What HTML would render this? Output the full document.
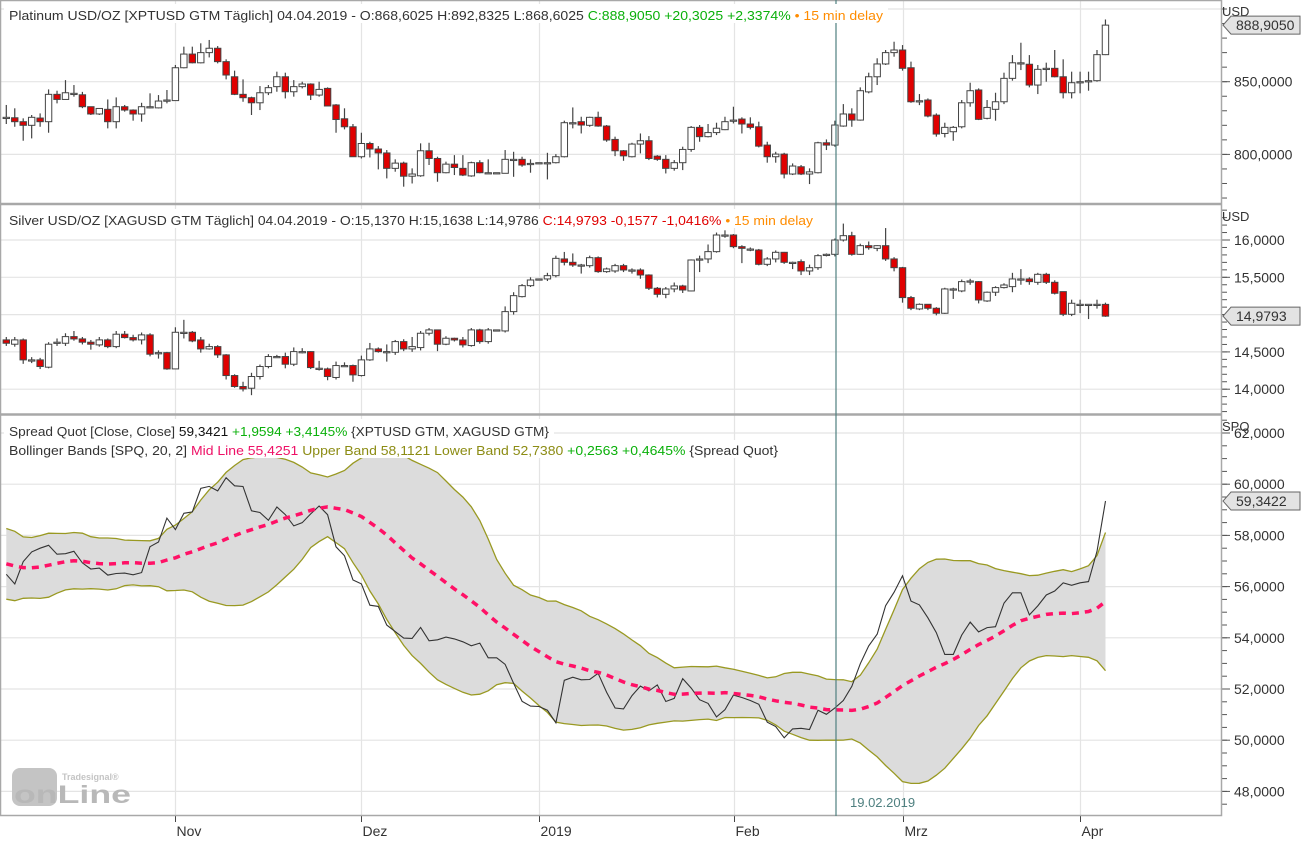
<!DOCTYPE html>
<html><head><meta charset="utf-8"><style>
html,body{margin:0;padding:0;background:#fff;}
svg{display:block;font-family:"Liberation Sans",sans-serif;}
</style></head><body>
<svg id="chart" width="1301" height="842" viewBox="0 0 1301 842" xmlns="http://www.w3.org/2000/svg">
<rect x="0" y="0" width="1301" height="842" fill="#fff"/>
<g id="grid"></g>
<g id="spq"></g>
<g id="pt"></g>
<g id="ag"></g>
<g id="axes"></g>
<g fill="none" stroke="#a8a8a8">
<rect x="0.5" y="0.5" width="1221" height="815" stroke-width="1.5"/>
<line x1="0" y1="204" x2="1222" y2="204" stroke-width="2.5"/>
<line x1="0" y1="414.5" x2="1222" y2="414.5" stroke-width="2.5"/>
</g>
<line x1="836" y1="0" x2="836" y2="816" stroke="#4f8080" stroke-width="1.2"/>
<text x="850" y="807" font-size="13" fill="#4f8080">19.02.2019</text>
<g>
<rect x="4" y="4" width="884" height="19" fill="#fff"/>
<text x="9" y="20" font-size="13" textLength="874" lengthAdjust="spacingAndGlyphs" fill="#333">Platinum USD/OZ [XPTUSD GTM Täglich] 04.04.2019 - O:868,6025 H:892,8325 L:868,6025 <tspan fill="#0ab00a">C:888,9050 +20,3025 +2,3374%</tspan><tspan fill="#ff8c00"> • 15 min delay</tspan></text>
</g>
<g>
<rect x="4" y="209" width="814" height="19" fill="#fff"/>
<text x="9" y="225" font-size="13" textLength="804" lengthAdjust="spacingAndGlyphs" fill="#333">Silver USD/OZ [XAGUSD GTM Täglich] 04.04.2019 - O:15,1370 H:15,1638 L:14,9786 <tspan fill="#e00000">C:14,9793 -0,1577 -1,0416%</tspan><tspan fill="#ff8c00"> • 15 min delay</tspan></text>
</g>
<g>
<rect x="4" y="419" width="550" height="38" fill="#fff"/>
<text x="9" y="436" font-size="13" textLength="540" lengthAdjust="spacingAndGlyphs" fill="#333">Spread Quot [Close, Close] <tspan fill="#111">59,3421</tspan> <tspan fill="#0ab00a">+1,9594 +3,4145%</tspan> {XPTUSD GTM, XAGUSD GTM}</text>
</g>
<g>
<rect x="4" y="440" width="780" height="18" fill="#fff"/>
<text x="9" y="455" font-size="13" textLength="769" lengthAdjust="spacingAndGlyphs" fill="#333">Bollinger Bands [SPQ, 20, 2] <tspan fill="#ee1166">Mid Line 55,4251</tspan> <tspan fill="#8c8c14">Upper Band 58,1121 Lower Band 52,7380</tspan> <tspan fill="#0ab00a">+0,2563 +0,4645%</tspan> {Spread Quot}</text>
</g>
<g>
<rect x="12" y="768" width="45" height="38" rx="8" fill="#c4c4c4"/>
<text x="62" y="780" font-size="9" font-weight="bold" fill="#c4c4c4">Tradesignal®</text>
<text x="14" y="803" font-size="25" font-weight="bold" fill="#b8b8b8" textLength="117" lengthAdjust="spacingAndGlyphs">onLine</text>
</g>
</svg>
<script>
const ptO=[825.5,825.2,822.5,820,825,822.5,841.3,837.8,842,841,832.8,827.8,831,822.5,832.8,830.5,827.8,832.8,832,837.4,837,859.6,869,863,870,873,863.8,853.4,841.3,839,835.5,842.4,846.6,853.4,843.1,846.6,848.4,840.8,845.4,834,824.5,819,798.4,807.5,803.7,801,790.4,794,785,785.3,802.5,797.2,787.4,793.3,790.4,785.2,794.3,787.4,787.4,787,796.6,796.6,793.8,794.3,794.3,794.3,798.4,821.8,822.5,820,825.5,819.5,810.3,802.5,798.4,807.1,809.4,798.8,796.6,790.4,794.3,803.4,818.6,812.2,815,817,823.6,824.3,820.9,819,806.4,798.4,800.2,786.5,791.5,786.5,787.4,808,806.4,819.5,827.8,823.6,843,853.4,862.2,870,871.8,859.6,836.9,837.4,827,814.4,815.6,819,835.5,844.3,824.8,831,836.2,852.3,863,862,847.7,859.2,859.2,853.4,842.4,850,850.7,850.7,868.6025];
const ptC=[825.5,822.5,820,825.5,822.5,841.3,837.8,842.4,842,832.8,827.8,831.6,822.5,832.8,830.5,827.8,832.8,832.8,836.7,837.4,859.6,869,863,870,873,863.8,854.6,841.3,839,835.5,842.4,845.9,853.4,843.1,846.6,848.4,840.8,844.7,833.3,824,819,798.4,807.5,803.7,801,790.4,794,785,786.5,802.5,797.2,787.4,793.3,791,785.8,794.3,787.4,787.4,787.4,796.6,796.6,792.7,793.8,794.3,794.3,798.4,821.8,821.8,820.2,825.5,819.5,809.9,802.5,799,807.1,809.4,797.2,796.6,790.4,794.3,803.4,818.6,812.2,815,818,822.5,823.6,820.9,818.6,805.7,798.4,800.2,786.5,792,786.5,788,808,806.4,820.2,827.8,823.6,843.8,853.4,862.2,870,871.8,859.2,836.2,836.9,826.4,814,818.6,818.6,835.5,843.8,824.1,832.3,836.2,852.3,863,863,847.7,858.5,859.2,853.4,842.4,849.3,850,850.7,868.6025,888.905];
const ptH=[834,831.7,824.8,827.1,828.2,844.7,843.8,851.1,847.7,843,832.8,831.6,837.8,839.2,834,831,835.5,842,840.8,844.3,861.5,874.1,874.1,876.4,878.7,874.5,865.4,857.6,851.6,839.7,847,847.7,856.9,856.2,851.1,850,848.9,850,846.1,834.6,831.7,820.9,814.9,808.7,805.7,803,796.6,795,790.4,807.6,808,798.4,795,799.5,799.5,795,796,796.6,787.4,803,801.8,798.4,796.6,794.3,801.1,800.2,823.2,832.3,825.9,825.9,829.4,820.2,812.2,803,808,814.4,812.6,799.5,799.5,796.1,805.3,819.5,820.2,820.9,821.8,825.9,832.8,825.5,825.5,822.5,808.7,801.8,801.1,793.8,792.7,790.4,808.7,810.3,823.2,834.6,831.7,846.1,856.2,866.1,871.8,877.5,875.2,863.8,841.5,838.5,828.2,821.8,819.5,837.4,849.3,845.4,837.4,842.4,856.2,868.3,876.8,868.3,861.5,863.1,871.8,865.4,856.9,856.9,856.9,871.8,892.8];
const ptL=[820.9,819,809.4,811,819,814.9,835.1,837.8,839.7,831.8,827.1,827.1,817.9,817.9,829.4,823.2,822.5,831.6,831.6,835.1,836.9,859.2,862.6,862.6,866.7,862.6,851.6,840.8,836.2,827.1,830.5,840.8,843.1,838.5,839.7,845.4,837.4,839.7,833.3,814.9,817.2,798.4,797.2,797.9,789.7,783.5,788.1,777.8,780,784.6,792.7,781.2,787,785.8,785.1,784.6,787,787,787.4,787,784.6,791.5,787.4,794.3,782.8,793.8,797.9,817.9,814.4,819,819,808.7,798.8,795.6,797.9,800.7,796.1,795.6,786.9,788.8,789.2,801.8,808.7,811.7,813.3,816.7,821.3,814.4,817.2,804.8,794.3,794.3,783.5,785.8,785.8,779.6,786.9,803,805.3,819,819,823.2,842,847.7,861.5,867.2,857.6,835.5,833.9,825.5,812.2,811.7,809.4,817.9,832.8,823.6,824.1,823.2,834.6,850.7,858,846.1,841.5,850,853,838.5,838.5,842,843.8,850,868.3];
const agO=[14.661,14.603,14.661,14.393,14.393,14.295,14.63,14.616,14.705,14.674,14.63,14.594,14.661,14.571,14.737,14.692,14.661,14.728,14.49,14.49,14.272,14.763,14.763,14.66,14.54,14.571,14.46,14.183,14.036,14.013,14.17,14.304,14.438,14.438,14.335,14.504,14.504,14.281,14.272,14.157,14.317,14.317,14.183,14.393,14.54,14.504,14.495,14.638,14.54,14.558,14.75,14.795,14.603,14.683,14.66,14.585,14.795,14.638,14.795,14.781,15.04,15.241,15.388,15.478,15.478,15.522,15.746,15.701,15.665,15.656,15.763,15.576,15.585,15.656,15.598,15.598,15.531,15.353,15.272,15.344,15.384,15.317,15.746,15.746,15.844,16.067,16.067,15.911,15.879,15.866,15.674,15.746,15.835,15.701,15.71,15.585,15.629,15.808,15.808,16.0,16.058,15.808,15.924,15.888,15.924,15.746,15.629,15.228,15.076,15.138,15.085,15.018,15.344,15.317,15.451,15.442,15.183,15.3,15.362,15.375,15.478,15.478,15.433,15.54,15.433,15.308,15.004,15.138,15.138,15.138,15.137];
const agC=[14.616,14.661,14.393,14.393,14.304,14.603,14.63,14.705,14.674,14.63,14.603,14.661,14.571,14.737,14.692,14.661,14.728,14.469,14.49,14.272,14.763,14.763,14.647,14.54,14.571,14.46,14.183,14.036,14.004,14.17,14.304,14.438,14.438,14.335,14.504,14.504,14.29,14.281,14.17,14.317,14.317,14.192,14.393,14.54,14.504,14.504,14.638,14.54,14.571,14.75,14.795,14.603,14.683,14.66,14.594,14.795,14.638,14.795,14.795,15.04,15.254,15.388,15.464,15.478,15.522,15.754,15.701,15.665,15.665,15.763,15.576,15.612,15.656,15.598,15.598,15.531,15.353,15.272,15.344,15.384,15.33,15.732,15.746,15.844,16.067,16.067,15.911,15.888,15.879,15.674,15.746,15.835,15.701,15.701,15.585,15.629,15.79,15.808,16.0,16.058,15.808,15.924,15.897,15.924,15.746,15.629,15.228,15.085,15.138,15.085,15.018,15.344,15.344,15.442,15.451,15.196,15.3,15.362,15.397,15.478,15.478,15.442,15.54,15.433,15.286,15.004,15.152,15.138,15.138,15.138,14.9793];
const agH=[14.70,14.70,14.68,14.43,14.42,14.63,14.68,14.75,14.78,14.70,14.66,14.70,14.68,14.78,14.78,14.73,14.76,14.75,14.52,14.50,14.83,14.93,14.78,14.70,14.61,14.59,14.47,14.20,14.10,14.22,14.33,14.47,14.46,14.49,14.56,14.55,14.51,14.38,14.29,14.37,14.36,14.33,14.45,14.62,14.56,14.60,14.66,14.67,14.70,14.78,14.82,14.80,14.71,14.69,14.70,14.82,14.81,14.82,14.80,15.11,15.30,15.41,15.50,15.48,15.56,15.79,15.84,15.82,15.68,15.79,15.78,15.63,15.68,15.68,15.62,15.62,15.54,15.37,15.37,15.43,15.40,15.74,15.79,15.94,16.10,16.13,16.08,15.93,15.90,15.88,15.77,15.86,15.84,15.71,15.74,15.67,15.81,15.82,16.02,16.22,16.11,15.95,15.98,15.93,16.16,15.77,15.64,15.25,15.15,15.14,15.10,15.36,15.36,15.47,15.48,15.45,15.31,15.38,15.42,15.56,15.61,15.50,15.56,15.56,15.46,15.31,15.20,15.20,15.14,15.20,15.16];
const agL=[14.58,14.57,14.34,14.35,14.27,14.28,14.58,14.58,14.65,14.60,14.53,14.57,14.55,14.55,14.68,14.64,14.60,14.44,14.41,14.26,14.27,14.68,14.63,14.49,14.53,14.42,14.13,14.02,13.97,13.92,14.13,14.28,14.42,14.28,14.31,14.48,14.27,14.25,14.12,14.13,14.30,14.10,14.17,14.38,14.49,14.37,14.46,14.51,14.50,14.52,14.72,14.51,14.59,14.64,14.56,14.57,14.61,14.61,14.79,14.76,15.00,15.23,15.37,15.47,15.45,15.50,15.66,15.64,15.55,15.63,15.56,15.56,15.56,15.57,15.55,15.48,15.33,15.23,15.22,15.30,15.29,15.31,15.57,15.69,15.83,16.03,15.89,15.69,15.85,15.66,15.65,15.70,15.68,15.61,15.53,15.53,15.60,15.78,15.78,15.98,15.79,15.80,15.87,15.85,15.72,15.58,15.16,15.06,15.06,15.06,14.99,15.01,15.21,15.30,15.40,15.15,15.17,15.25,15.35,15.30,15.40,15.40,15.40,15.41,15.27,14.98,14.98,15.02,14.94,15.08,14.97];
const preSpread=[57.8,58.2,57.5,56.9,56.2,55.8,56.0,56.6,57.3,57.9,57.4,56.8,56.2,55.9,56.3,57.0,57.6,57.2,56.7];
const monthLabels=["Nov","Dez","2019","Feb","Mrz","Apr"];
const monthBarIdx=[20.0,42.0,63.0,86.1,106.0,127.0];
const ptTicks=[800,850];
const agTicks=[14,14.5,15,15.5,16];
const spqTicks=[48,50,52,54,56,58,60,62];
const BB_LEN=20, BB_K=2;

const NS="http://www.w3.org/2000/svg";
function mk(tag,attrs,parent){const e=document.createElementNS(NS,tag);for(const k in attrs)e.setAttribute(k,attrs[k]);parent.appendChild(e);return e;}
const xOf=i=>6.3+8.455*i;
const yPt=v=>81.7+(850-v)*1.454;
const yAg=v=>240+(16-v)*74.6;
const ySp=v=>433+(62-v)*25.6;
const fmt=(v,d)=>v.toFixed(d).replace('.',',');

const grid=document.getElementById('grid');
monthBarIdx.forEach((m,k)=>{
  const x=Math.round(xOf(m))+0.5;
  const gl=mk('line',{x1:x,y1:0,x2:x,y2:816,stroke:'#e4e4e4','stroke-width':1.2},grid);
  
  
});
[900,850,800].forEach(v=>{const y=yPt(v);const l=mk('line',{x1:0,y1:y,x2:1222,y2:y,stroke:'#e4e4e4','stroke-width':1.2},grid);});
agTicks.forEach(v=>{const y=yAg(v);const l=mk('line',{x1:0,y1:y,x2:1222,y2:y,stroke:'#e4e4e4','stroke-width':1.2},grid);});
spqTicks.forEach(v=>{const y=ySp(v);const l=mk('line',{x1:0,y1:y,x2:1222,y2:y,stroke:'#e4e4e4','stroke-width':1.2},grid);});

function candles(g,O,C,H,L,yf,name){
  for(let i=0;i<O.length;i++){
    const x=xOf(i);
    const w=mk('line',{x1:x,y1:yf(H[i]),x2:x,y2:yf(L[i]),stroke:'#444','stroke-width':1.2},g);
    
    
    const top=yf(Math.max(O[i],C[i])),bot=yf(Math.min(O[i],C[i]));
    const h=Math.max(bot-top,1.2);
    const up=C[i]>=O[i];
    const b=mk('rect',{x:x-3.2,y:top,width:6.4,height:h,fill:up?'#fff':'#e00000',stroke:'#444','stroke-width':1},g);
    
    
  }
}
candles(document.getElementById('pt'),ptO,ptC,ptH,ptL,yPt,'platinum');
candles(document.getElementById('ag'),agO,agC,agH,agL,yAg,'silver');

const spread=ptC.map((p,i)=>p/agC[i]);
const full=preSpread.concat(spread);
const mid=[],up=[],lo=[];
for(let i=0;i<spread.length;i++){
  const j=i+preSpread.length;const w=full.slice(j-BB_LEN+1,j+1);
  const m=w.reduce((a,b)=>a+b,0)/w.length;
  const sd=Math.sqrt(w.reduce((a,b)=>a+(b-m)*(b-m),0)/w.length);
  mid.push(m);up.push(m+BB_K*sd);lo.push(m-BB_K*sd);
}
const sg=document.getElementById('spq');
const pts=a=>a.map((v,i)=>xOf(i).toFixed(1)+','+ySp(v).toFixed(1));
const band=mk('polygon',{points:pts(up).concat(pts(lo).reverse()).join(' '),fill:'#dcdcdc'},sg);


const ul=mk('polyline',{points:pts(up).join(' '),fill:'none',stroke:'#999922','stroke-width':1.3},sg);


const ll=mk('polyline',{points:pts(lo).join(' '),fill:'none',stroke:'#999922','stroke-width':1.3},sg);


const sl=mk('polyline',{points:pts(spread).join(' '),fill:'none',stroke:'#333','stroke-width':1.1},sg);


const ml=mk('polyline',{points:pts(mid).join(' '),fill:'none',stroke:'#ff1166','stroke-width':3.5,'stroke-dasharray':'7,6'},sg);



const ax=document.getElementById('axes');
function axis(ticks,yf,dec,minorStep,lo0,hi0,y0,y1,name){
  for(let v=lo0;v<=hi0+1e-9;v+=minorStep){const y=yf(v);if(y<y0||y>y1)continue;const t=mk('line',{x1:1222,y1:y,x2:1227,y2:y,stroke:'#555'},ax);}
  ticks.forEach(v=>{const y=yf(v);if(y<y0||y>y1)return;
    const t=mk('line',{x1:1222,y1:y,x2:1230,y2:y,stroke:'#555'},ax);
    const tx=mk('text',{x:1234,y:y+5,'font-size':14,fill:'#333'},ax);tx.textContent=fmt(v,4);});
}
axis(ptTicks,yPt,4,10,760,910,4,202,'platinum-axis');
axis(agTicks,yAg,4,0.1,13.7,16.6,208,412,'silver-axis');
axis(spqTicks,ySp,4,0.5,47,63,418,815,'spread-axis');
[['USD',16],['USD',221],['SPQ',431]].forEach(([s,y])=>{const t=mk('text',{x:1222,y:y,'font-size':13,fill:'#333'},ax);t.textContent=s;});
function tag(y,txt,name){
  const p=mk('polygon',{points:`1223,${y} 1231,${y-9} 1300,${y-9} 1300,${y+9} 1231,${y+9}`,fill:'#e3e3e3',stroke:'#666'},ax);
  
  
  const t=mk('text',{x:1236,y:y+5,'font-size':14,fill:'#333'},ax);t.textContent=txt;
  
  
}
const n=ptC.length-1;
tag(yPt(ptC[n]),fmt(ptC[n],4),'platinum-last-price');
tag(yAg(agC[n]),fmt(agC[n],4),'silver-last-price');
tag(ySp(spread[n]),fmt(spread[n],4),'spread-last-value');
monthLabels.forEach((m,k)=>{const x=Math.round(xOf(monthBarIdx[k]))+0.5;
  const t=mk('line',{x1:x,y1:816,x2:x,y2:822,stroke:'#444'},ax);
  const tx=mk('text',{x:x+1,y:836,'font-size':14,fill:'#333'},ax);tx.textContent=m;});
</script>
</body></html>
